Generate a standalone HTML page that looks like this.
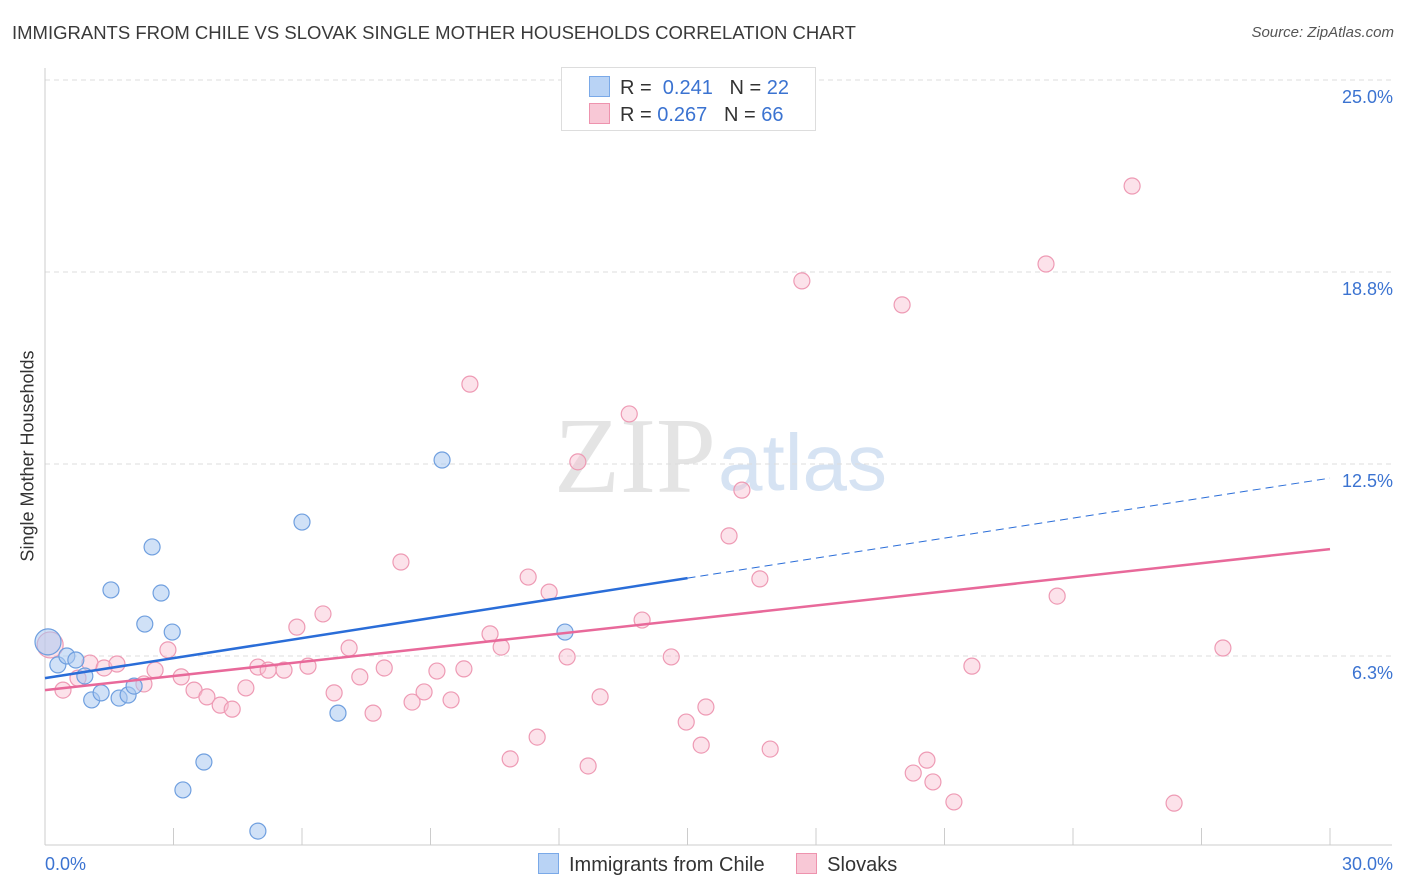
<!DOCTYPE html>
<html><head><meta charset="utf-8">
<style>
body{margin:0;background:#fff;font-family:"Liberation Sans",sans-serif;}
#wrap{position:relative;width:1406px;height:892px;overflow:hidden;}
</style></head>
<body>
<div id="wrap">
<div style="position:absolute;left:12px;top:22px;font-size:18.5px;color:#3a3a3a;">IMMIGRANTS FROM CHILE VS SLOVAK SINGLE MOTHER HOUSEHOLDS CORRELATION CHART</div>
<div style="position:absolute;right:12px;top:24px;font-size:15px;color:#555;font-style:italic;">Source: ZipAtlas.com</div>
<svg id="chart" width="1406" height="892" style="position:absolute;left:0;top:0">
<text x="716" y="492" text-anchor="end" font-family="Liberation Serif" font-size="108" fill="#e4e4e4">ZIP</text>
<text x="718" y="490" font-family="Liberation Sans" font-size="80" fill="#d6e3f3">atlas</text>
</svg>
<div style="position:absolute;left:561px;top:67px;width:253px;height:62px;border:1px solid #ddd;background:#fff;font-size:20px;color:#333;">
<div style="position:absolute;left:27px;top:8px;white-space:nowrap;"><span style="display:inline-block;width:19px;height:19px;background:#b9d3f5;border:1px solid #7aa9e8;vertical-align:-3px;margin-right:10px"></span>R = <span style="color:#3b73d1">&nbsp;0.241</span>&nbsp;&nbsp;&nbsp;N = <span style="color:#3b73d1">22</span></div>
<div style="position:absolute;left:27px;top:35px;white-space:nowrap;"><span style="display:inline-block;width:19px;height:19px;background:#f8c8d6;border:1px solid #ee93ae;vertical-align:-3px;margin-right:10px"></span>R = <span style="color:#3b73d1">0.267</span>&nbsp;&nbsp;&nbsp;N = <span style="color:#3b73d1">66</span></div>
</div>
<div style="position:absolute;left:28px;top:456px;transform:translate(-50%,-50%) rotate(-90deg);font-size:18px;color:#333;white-space:nowrap;">Single Mother Households</div>
<div style="position:absolute;left:538px;top:853px;font-size:20px;color:#333;white-space:nowrap;">
<span><span style="display:inline-block;width:19px;height:19px;background:#b9d3f5;border:1px solid #7aa9e8;vertical-align:-3px;margin-right:10px"></span>Immigrants from Chile</span>
<span style="margin-left:26px"><span style="display:inline-block;width:19px;height:19px;background:#f8c8d6;border:1px solid #ee93ae;vertical-align:-3px;margin-right:10px"></span>Slovaks</span>
</div>
</div>
<script>
const yTicks=[6.25,12.5,18.75,25];
const yTickLabels=["6.3%","12.5%","18.8%","25.0%"];
const xTicks=[0,3,6,9,12,15,18,21,24,27,30];
const chileX=[0.07,0.30,0.51,0.72,0.93,1.09,1.31,1.54,1.73,1.94,2.08,2.33,2.50,2.71,2.97,3.22,3.71,4.97,6.00,6.84,9.27,12.14];
const chileY=[6.71,5.96,6.25,6.12,5.60,4.82,5.05,8.40,4.88,4.98,5.27,7.29,9.80,8.30,7.03,1.89,2.80,0.55,10.61,4.39,12.63,7.03];
const slovakX=[0.12,0.42,0.77,1.05,1.38,1.68,2.31,2.57,2.87,3.18,3.48,3.78,4.09,4.37,4.69,4.97,5.21,5.58,5.88,6.14,6.49,6.75,7.10,7.35,7.66,7.92,8.31,8.57,8.85,9.15,9.48,9.78,9.92,10.39,10.65,10.86,11.28,11.49,11.77,12.19,12.44,12.68,12.96,13.64,13.94,14.62,14.97,15.32,15.43,15.97,16.27,16.69,16.93,17.67,20.01,20.27,20.59,20.73,21.22,21.64,23.37,23.63,25.38,26.36,27.50];
const slovakY=[6.61,5.14,5.53,6.02,5.86,5.99,5.34,5.79,6.45,5.57,5.14,4.92,4.65,4.52,5.21,5.89,5.79,5.79,7.19,5.92,7.62,5.05,6.51,5.57,4.39,5.86,9.31,4.75,5.08,5.76,4.82,5.83,15.10,6.97,6.54,2.90,8.82,3.61,8.33,6.22,12.57,2.67,4.92,14.13,7.42,6.22,4.10,3.35,4.59,10.16,11.65,8.76,3.22,18.46,17.68,2.44,2.86,2.15,1.50,5.92,19.01,8.20,21.55,1.46,6.51];
const chileTrend=[5.53,12.04];
const slovakTrend=[5.14,9.73];

const NS="http://www.w3.org/2000/svg";
const svg=document.getElementById('chart');
const X=v=>45+v*(1285/30);
const Y=v=>848-v*30.72;
function mk(t,a){const e=document.createElementNS(NS,t);for(const k in a)e.setAttribute(k,a[k]);svg.appendChild(e);return e;}

yTicks.forEach((t,i)=>{
  const g=mk('line',{x1:45,x2:1392,y1:Y(t),y2:Y(t),stroke:'#ddd','stroke-dasharray':'5,4'});
  
  
  const l=mk('text',{x:1393,y:Y(t)+23,'text-anchor':'end','font-size':18,fill:'#3b73d1'});
  l.textContent=yTickLabels[i];
  
  
});
const ax=mk('line',{x1:45,x2:45,y1:68,y2:845,stroke:'#ccc'});


const bx=mk('line',{x1:45,x2:1392,y1:845,y2:845,stroke:'#ccc'});


xTicks.forEach(t=>{
  const k=mk('line',{x1:X(t),x2:X(t),y1:828,y2:845,stroke:'#ccc'});
  
  
});
const xl0=mk('text',{x:45,y:870,'font-size':18,fill:'#3b73d1'});xl0.textContent='0.0%';


const xl1=mk('text',{x:1393,y:870,'text-anchor':'end','font-size':18,fill:'#3b73d1'});xl1.textContent='30.0%';



function dot(x,y,fill,stroke,name,r){
  const c=mk('circle',{cx:X(x),cy:Y(y),r:r,fill:fill,stroke:stroke,'stroke-width':1.2});
  
  
}
slovakX.forEach((x,i)=>dot(x,slovakY[i],'rgba(248,190,208,0.45)','#ee9ab4','slovaks-point',i==0?13:8));
chileX.forEach((x,i)=>dot(x,chileY[i],'rgba(170,200,240,0.55)','#6f9fdf','chile-point',i==0?13:8));

const ct=v=>chileTrend[0]+(chileTrend[1]-chileTrend[0])*v/30;
const st=v=>slovakTrend[0]+(slovakTrend[1]-slovakTrend[0])*v/30;
const l1=mk('line',{x1:X(0),y1:Y(ct(0)),x2:X(15),y2:Y(ct(15)),stroke:'#2a6dd8','stroke-width':2.5});


const l2=mk('line',{x1:X(15),y1:Y(ct(15)),x2:X(30),y2:Y(ct(30)),stroke:'#2a6dd8','stroke-width':1,'stroke-dasharray':'8,5'});


const l3=mk('line',{x1:X(0),y1:Y(st(0)),x2:X(30),y2:Y(st(30)),stroke:'#e8699a','stroke-width':2.5});


</script>
</body></html>
